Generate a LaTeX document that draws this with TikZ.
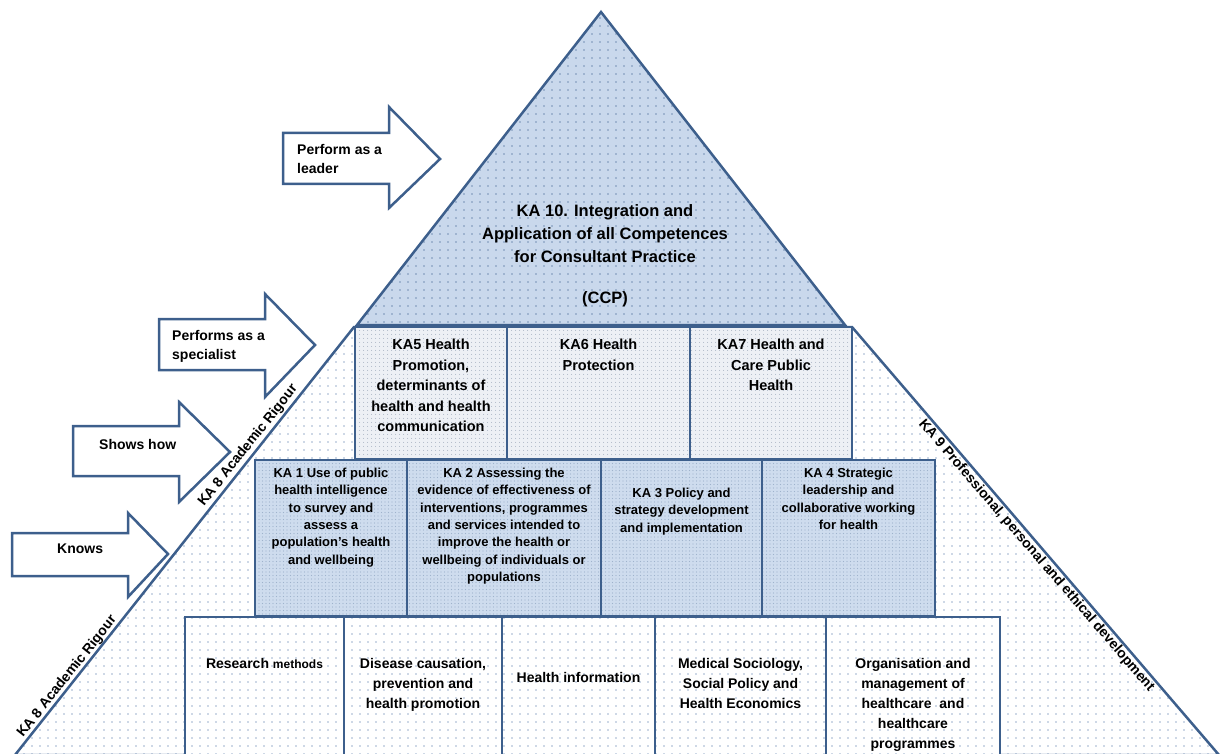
\documentclass[tikz,border=0pt]{standalone}
\usepackage{fontspec}
\setmainfont{Liberation Sans}
\usetikzlibrary{positioning,patterns.meta}

\definecolor{kaline}{HTML}{3D5F8C}
\definecolor{ccpfill}{HTML}{C9D8EC}
\definecolor{ccpdot}{HTML}{7590B5}
\definecolor{basedot}{HTML}{9DB2CE}
\definecolor{specfill}{HTML}{EDF0F5}
\definecolor{specdot}{HTML}{A3AEBE}
\definecolor{corefill}{HTML}{CEDCEE}
\definecolor{coredot}{HTML}{9FB2CC}

\begin{document}
\begin{tikzpicture}[x=1pt,y=-1pt,
    outline/.style={draw=kaline,line width=2.5pt},
    base/.style={outline,preaction={fill=white},pattern={Dots[distance=8pt,radius=0.8pt]},pattern color=basedot},
    ccp/.style={outline,preaction={fill=ccpfill},pattern={Dots[distance=8pt,radius=0.8pt]},pattern color=ccpdot},
    specbox/.style={outline,preaction={fill=specfill},pattern={Dots[distance=4pt,radius=0.6pt]},pattern color=specdot,minimum height=132pt,inner sep=0pt,outer sep=0pt},
    corebox/.style={outline,preaction={fill=corefill},pattern={Dots[distance=3.5pt,radius=0.55pt]},pattern color=coredot,minimum height=156pt,inner sep=0pt,outer sep=0pt},
    knowbox/.style={base,minimum height=160pt,inner sep=0pt,outer sep=0pt},
    spectext/.style={align=center,inner sep=0pt,font=\fontsize{14.5}{20.5}\selectfont\bfseries},
    coretext/.style={align=center,inner sep=0pt,font=\fontsize{13}{17.3}\selectfont\bfseries},
    knowtext/.style={align=center,inner sep=0pt,font=\fontsize{14}{20}\selectfont\bfseries},
    ccptext/.style={align=center,inner sep=0pt,anchor=north,font=\fontsize{16.5}{23}\selectfont\bfseries},
    arrowbox/.style={draw=kaline,line width=2.5pt,fill=white,line join=miter},
    arrowtext/.style={anchor=north west,align=left,inner sep=0pt,font=\fontsize{14}{19}\selectfont\bfseries},
    kalabel/.style={inner sep=2pt,font=\fontsize{14}{16}\selectfont\bfseries}
    ]
    \useasboundingbox (0,0) rectangle (1225,754);

    \draw[base] (354,327) -- (852,327) -- (1219,755) -- (15,755) -- cycle;
    \draw[ccp] (601,12) -- (845,325) -- (357,325) -- cycle;
    \node[ccptext] (ccp) at (605,204) {KA 10. Integration and\\Application of all Competences\\for Consultant Practice\\[18pt](CCP)};

    \node[specbox,minimum width=152pt,anchor=north west] (ka5) at (355,327) {};
    \node[specbox,minimum width=183pt,right=0pt of ka5] (ka6) {};
    \node[specbox,minimum width=162pt,right=0pt of ka6] (ka7) {};
    \node[spectext,below=12pt of ka5.north] (ka5text) {KA5 Health\\Promotion,\\determinants of\\health and health\\communication};
    \node[spectext,below=12pt of ka6.north] (ka6text) {KA6 Health\\Protection};
    \node[spectext,below=12pt of ka7.north] (ka7text) {KA7 Health and\\Care Public\\Health};

    \node[corebox,minimum width=152pt,anchor=north west] (ka1) at (255,460) {};
    \node[corebox,minimum width=194pt,right=0pt of ka1] (ka2) {};
    \node[corebox,minimum width=161pt,right=0pt of ka2] (ka3) {};
    \node[corebox,minimum width=173pt,right=0pt of ka3] (ka4) {};
    \node[coretext,below=8pt of ka1.north] (ka1text) {KA 1 Use of public\\health intelligence\\to survey and\\assess a\\population's health\\and wellbeing};
    \node[coretext,below=8pt of ka2.north] (ka2text) {KA 2 Assessing the\\evidence of effectiveness of\\interventions, programmes\\and services intended to\\improve the health or\\wellbeing of individuals or\\populations};
    \node[coretext,below=28pt of ka3.north] (ka3text) {KA 3 Policy and\\strategy development\\and implementation};
    \node[coretext,below=8pt of ka4.north] (ka4text) {KA 4 Strategic\\leadership and\\collaborative working\\for health};

    \node[knowbox,minimum width=159pt,anchor=north west] (research) at (185,617) {};
    \node[knowbox,minimum width=158pt,right=0pt of research] (disease) {};
    \node[knowbox,minimum width=153pt,right=0pt of disease] (information) {};
    \node[knowbox,minimum width=171pt,right=0pt of information] (sociology) {};
    \node[knowbox,minimum width=174pt,right=0pt of sociology] (organisation) {};
    \node[knowtext,below=41pt of research.north] (researchtext) {Research {\fontsize{12}{20}\selectfont methods}};
    \node[knowtext,below=41pt of disease.north] (diseasetext) {Disease causation,\\prevention and\\health promotion};
    \node[knowtext,below=55pt of information.north] (informationtext) {Health information};
    \node[knowtext,below=41pt of sociology.north] (sociologytext) {Medical Sociology,\\Social Policy and\\Health Economics};
    \node[knowtext,below=41pt of organisation.north] (organisationtext) {Organisation and\\management of\\healthcare~ and\\healthcare\\programmes};

    \node[kalabel,rotate=51.6,anchor=south] (ka8upper) at (255,451) {KA 8 Academic Rigour};
    \node[kalabel,rotate=51.6,anchor=south] (ka8lower) at (74,682) {KA 8 Academic Rigour};
    \node[kalabel,rotate=-49.3,anchor=north] (ka9) at (1043,550) {KA 9 Professional, personal and ethical development};

    \draw[arrowbox] (283,133) -- (389,133) -- (389,107) -- (440,159) -- (389,208) -- (389,184) -- (283,184) -- cycle;
    \draw[arrowbox] (159,319) -- (265,319) -- (265,294) -- (315,345) -- (265,397) -- (265,370) -- (159,370) -- cycle;
    \draw[arrowbox] (73,426) -- (179,426) -- (179,402) -- (230,452) -- (179,502) -- (179,476) -- (73,476) -- cycle;
    \draw[arrowbox] (12,533) -- (128,533) -- (128,513) -- (168,554) -- (128,597) -- (128,576) -- (12,576) -- cycle;
    \node[arrowtext] (leader) at (297,144) {Perform as a\\leader};
    \node[arrowtext] (specialist) at (172,330) {Performs as a\\specialist};
    \node[arrowtext] (showshow) at (99,439) {Shows how};
    \node[arrowtext] (knows) at (57,544) {Knows};
  \end{tikzpicture}
\end{document}
